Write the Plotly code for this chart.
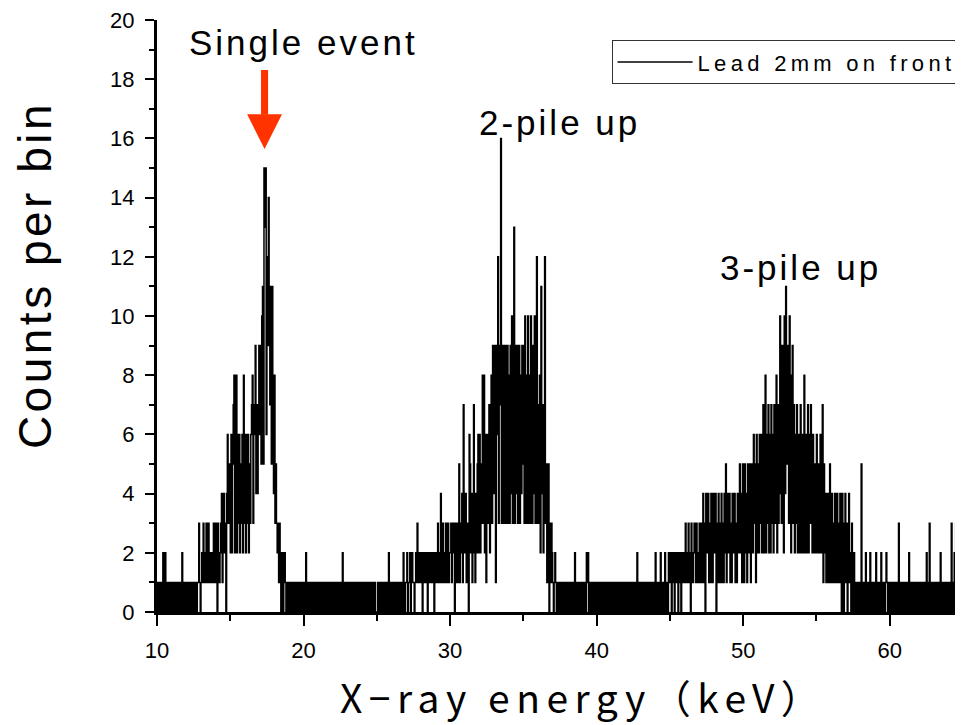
import numpy as np
import plotly.graph_objects as go

# spectrum: counts per 0.05 keV bin (10 - 65 keV)
bin_start = 10.0
bin_width = 0.05

counts_10_15 = [
    1, 0, 1, 1, 0, 1, 0, 0, 2, 1, 0, 2, 1, 0, 1, 1, 0, 0, 1, 0,
    1, 0, 0, 1, 1, 0, 1, 0, 0, 1, 0, 1, 0, 0, 2, 1, 0, 1, 0, 0,
    1, 1, 0, 0, 1, 0, 1, 1, 0, 0, 1, 0, 1, 1, 0, 1, 1, 3, 1, 0,
    1, 2, 1, 3, 1, 2, 1, 3, 2, 1, 3, 1, 2, 1, 2, 2, 1, 3, 2, 1,
    3, 2, 0, 3, 2, 1, 2, 3, 4, 1, 3, 4, 2, 3, 0, 4, 6, 3, 5, 4,
]
counts_15_20 = [
    2, 6, 2, 5, 7, 8, 2, 6, 8, 2, 6, 3, 6, 2, 5, 3, 6, 2, 8, 3,
    6, 2, 6, 3, 6, 2, 5, 3, 6, 7, 8, 3, 6, 7, 9, 4, 7, 4, 7, 9,
    6, 9, 5, 10, 11, 5, 15, 13, 15, 6, 12, 9, 14, 11, 7, 11, 5, 11, 8, 4,
    8, 3, 5, 3, 2, 3, 1, 3, 2, 0, 1, 2, 0, 1, 2, 1, 0, 0, 1, 0,
    1, 0, 1, 1, 0, 0, 1, 0, 1, 0, 1, 1, 0, 0, 1, 0, 1, 0, 0, 1,
]
counts_20_25 = [
    1, 0, 0, 2, 1, 0, 1, 0, 1, 1, 0, 0, 1, 0, 1, 0, 0, 1, 1, 0,
    0, 1, 0, 1, 0, 0, 1, 1, 0, 1, 0, 1, 0, 0, 1, 0, 1, 1, 0, 0,
    1, 0, 1, 0, 0, 1, 0, 1, 1, 0, 0, 1, 0, 2, 1, 0, 1, 0, 0, 1,
    0, 1, 1, 0, 1, 0, 0, 1, 0, 1, 1, 0, 0, 1, 0, 1, 0, 0, 1, 0,
    1, 0, 0, 1, 1, 0, 1, 0, 0, 1, 0, 1, 1, 0, 0, 1, 0, 1, 0, 0,
]
counts_25_30 = [
    0, 1, 0, 1, 1, 0, 0, 1, 0, 1, 0, 1, 1, 0, 0, 1, 2, 0, 1, 0,
    1, 0, 1, 1, 0, 1, 0, 0, 1, 1, 0, 1, 0, 1, 1, 0, 2, 1, 0, 1,
    1, 2, 0, 1, 1, 2, 0, 1, 2, 1, 1, 0, 1, 2, 1, 3, 1, 2, 1, 1,
    2, 1, 0, 2, 1, 1, 2, 1, 2, 0, 1, 2, 1, 2, 1, 1, 2, 1, 0, 2,
    1, 2, 1, 3, 1, 2, 1, 4, 2, 1, 3, 2, 1, 2, 3, 1, 2, 3, 1, 2,
]
counts_30_35 = [
    2, 3, 1, 3, 2, 3, 0, 3, 1, 3, 1, 2, 5, 1, 3, 2, 4, 1, 7, 2,
    2, 4, 1, 3, 2, 0, 6, 5, 2, 4, 1, 3, 7, 2, 1, 4, 2, 5, 6, 2,
    6, 2, 5, 3, 8, 3, 8, 2, 6, 1, 6, 3, 6, 7, 2, 5, 8, 3, 9, 4,
    5, 9, 1, 6, 9, 12, 3, 7, 9, 16, 3, 7, 9, 3, 8, 9, 3, 8, 9, 3,
    8, 3, 9, 4, 10, 3, 9, 13, 3, 9, 4, 9, 3, 8, 9, 3, 8, 4, 9, 5,
]
counts_35_40 = [
    9, 3, 10, 6, 3, 8, 10, 3, 8, 3, 10, 5, 3, 9, 4, 10, 3, 8, 12, 3,
    7, 3, 8, 2, 11, 4, 7, 2, 6, 12, 3, 5, 1, 4, 5, 0, 3, 1, 3, 2,
    1, 0, 1, 2, 1, 0, 1, 1, 0, 1, 0, 1, 1, 0, 1, 0, 0, 1, 1, 0,
    1, 0, 1, 0, 1, 1, 0, 0, 1, 0, 2, 1, 0, 1, 0, 1, 1, 0, 0, 1,
    0, 1, 0, 1, 1, 0, 2, 1, 2, 0, 1, 0, 1, 1, 0, 0, 1, 0, 1, 0,
]
counts_40_45 = [
    1, 0, 0, 1, 0, 1, 1, 0, 1, 0, 0, 1, 0, 1, 1, 0, 0, 1, 0, 1,
    1, 0, 1, 0, 0, 1, 1, 0, 1, 0, 1, 0, 0, 1, 0, 1, 1, 0, 1, 0,
    0, 1, 1, 0, 1, 0, 0, 1, 0, 1, 1, 0, 1, 0, 0, 2, 0, 1, 0, 1,
    1, 0, 1, 1, 0, 0, 1, 0, 1, 1, 0, 1, 0, 0, 1, 0, 1, 1, 0, 0,
    2, 1, 0, 1, 0, 1, 0, 2, 1, 0, 1, 1, 0, 2, 0, 0, 1, 0, 2, 1,
]
counts_45_50 = [
    1, 2, 0, 1, 2, 1, 0, 2, 1, 1, 2, 0, 1, 2, 1, 0, 2, 1, 2, 1,
    1, 3, 2, 1, 2, 3, 1, 2, 0, 3, 2, 1, 2, 3, 2, 1, 3, 2, 1, 2,
    3, 1, 3, 1, 2, 4, 1, 3, 0, 4, 2, 3, 4, 1, 3, 1, 4, 2, 1, 4,
    2, 3, 4, 0, 3, 1, 4, 3, 1, 3, 4, 1, 3, 1, 4, 2, 5, 1, 4, 3,
    2, 4, 1, 3, 1, 4, 2, 3, 4, 1, 3, 1, 4, 2, 4, 5, 2, 4, 1, 5,
]
counts_50_55 = [
    4, 1, 5, 2, 4, 1, 5, 3, 2, 5, 1, 4, 5, 2, 6, 3, 5, 1, 6, 2,
    5, 2, 6, 3, 6, 2, 5, 7, 2, 6, 8, 2, 6, 3, 7, 2, 6, 2, 7, 3,
    6, 2, 7, 3, 6, 8, 2, 7, 3, 6, 10, 4, 3, 9, 5, 2, 10, 4, 11, 5,
    6, 9, 3, 10, 7, 2, 8, 9, 3, 7, 2, 6, 3, 7, 2, 6, 2, 5, 7, 2,
    6, 2, 5, 8, 2, 6, 2, 5, 7, 2, 6, 3, 7, 4, 2, 6, 3, 2, 5, 2,
]
counts_55_60 = [
    6, 2, 4, 5, 2, 6, 3, 2, 7, 1, 5, 2, 4, 1, 3, 4, 1, 3, 5, 1,
    3, 4, 1, 3, 1, 4, 1, 3, 4, 1, 3, 1, 4, 1, 0, 4, 3, 0, 2, 4,
    1, 3, 0, 2, 4, 1, 2, 0, 3, 1, 0, 2, 1, 0, 1, 1, 0, 1, 0, 1,
    0, 5, 1, 0, 1, 1, 0, 2, 1, 0, 1, 0, 1, 2, 0, 1, 1, 0, 1, 0,
    1, 2, 0, 1, 0, 1, 1, 0, 2, 1, 0, 1, 0, 0, 1, 2, 1, 0, 1, 0,
]
counts_60_65 = [
    1, 0, 1, 1, 0, 1, 0, 0, 1, 1, 0, 1, 3, 0, 1, 0, 0, 1, 0, 1,
    0, 1, 1, 0, 1, 0, 2, 1, 0, 1, 0, 0, 1, 1, 0, 1, 0, 1, 0, 0,
    1, 0, 1, 0, 0, 1, 1, 0, 1, 0, 2, 1, 0, 1, 3, 0, 1, 0, 1, 1,
    0, 1, 0, 1, 1, 0, 0, 1, 0, 2, 1, 0, 1, 0, 1, 1, 0, 0, 1, 0,
    1, 0, 1, 0, 3, 1, 0, 1, 2, 0, 3, 1, 0, 1, 2, 1, 3, 0, 1, 1,
]

counts = (counts_10_15 + counts_15_20 + counts_20_25 + counts_25_30
          + counts_30_35 + counts_35_40 + counts_40_45 + counts_45_50
          + counts_50_55 + counts_55_60 + counts_60_65)
energy = np.round(bin_start + bin_width * np.arange(len(counts)), 3)

series_name = "Lead 2mm on front"
peak_labels = ["Single event", "2-pile up", "3-pile up"]
peak_label_x = [20.0, 37.45, 53.9]
peak_label_y = [19.25, 16.55, 11.65]

FONT = "Liberation Sans, Arial, sans-serif"


def spaced(text, px):
    return f'<span style="letter-spacing:{px}px">{text}</span>'


fig = go.Figure()
fig.add_trace(go.Scatter(
    x=energy, y=counts, mode="lines",
    line=dict(color="black", width=1.5, shape="hv"),
    name=spaced(series_name, 4.3),
))

# red arrow pointing at the single-event peak
arrow_x, shaft_half, head_half = 17.34, 0.24, 1.19
fig.add_shape(type="rect", xref="x", yref="y",
              x0=arrow_x - shaft_half, x1=arrow_x + shaft_half, y0=16.8, y1=18.31,
              fillcolor="#FF3300", line=dict(width=0))
fig.add_shape(type="path", xref="x", yref="y",
              path=f"M {arrow_x - head_half},16.82 L {arrow_x + head_half},16.82 L {arrow_x},15.64 Z",
              fillcolor="#FF3300", line=dict(width=0))

for txt, lx, ly in zip(peak_labels, peak_label_x, peak_label_y):
    fig.add_annotation(x=lx, y=ly, xref="x", yref="y", text=spaced(txt, 3),
                       showarrow=False, font=dict(family=FONT, size=35, color="black"))

# axis titles
fig.add_annotation(x=-0.1514, y=0.569, xref="paper", yref="paper",
                   xanchor="center", yanchor="middle", textangle=-90,
                   text=spaced("Counts per bin", 3.5), showarrow=False,
                   font=dict(family=FONT, size=46, color="black"))
fig.add_annotation(x=0.529, y=-0.142, xref="paper", yref="paper",
                   xanchor="center", yanchor="middle",
                   text=spaced("X−ray energy（keV）", 6.5), showarrow=False,
                   font=dict(family="Noto Sans CJK JP", size=39, color="black"))

# the page body adds an 8 px offset, so the figure is 8 px smaller each way
fig.update_layout(
    width=955, height=717,
    margin=dict(l=149, r=0, t=12, b=113),
    paper_bgcolor="white", plot_bgcolor="white",
    showlegend=True,
    legend=dict(x=0.564, y=0.966, xanchor="left", yanchor="top",
                bordercolor="#333333", borderwidth=1, bgcolor="white",
                font=dict(family=FONT, size=22, color="black"),
                itemwidth=75),
)
fig.update_xaxes(range=[10, 65], showgrid=False, zeroline=False,
                 showline=True, linecolor="black", linewidth=3,
                 ticks="outside", ticklen=11, tickwidth=2, tickcolor="black",
                 dtick=10, tick0=0, ticklabelstandoff=6, ticklabeloverflow="allow",
                 minor=dict(ticks="outside", ticklen=6, tickwidth=2, tickcolor="black", dtick=5),
                 tickfont=dict(family=FONT, size=22, color="black"))
fig.update_yaxes(range=[0, 20], showgrid=False, zeroline=False,
                 showline=True, linecolor="black", linewidth=3,
                 ticks="outside", ticklen=9, tickwidth=2, tickcolor="black",
                 dtick=2, tick0=0, ticklabelstandoff=6, ticklabeloverflow="allow",
                 minor=dict(ticks="outside", ticklen=5, tickwidth=2, tickcolor="black", dtick=1),
                 tickfont=dict(family=FONT, size=22, color="black"))

fig.write_html("out.html")
